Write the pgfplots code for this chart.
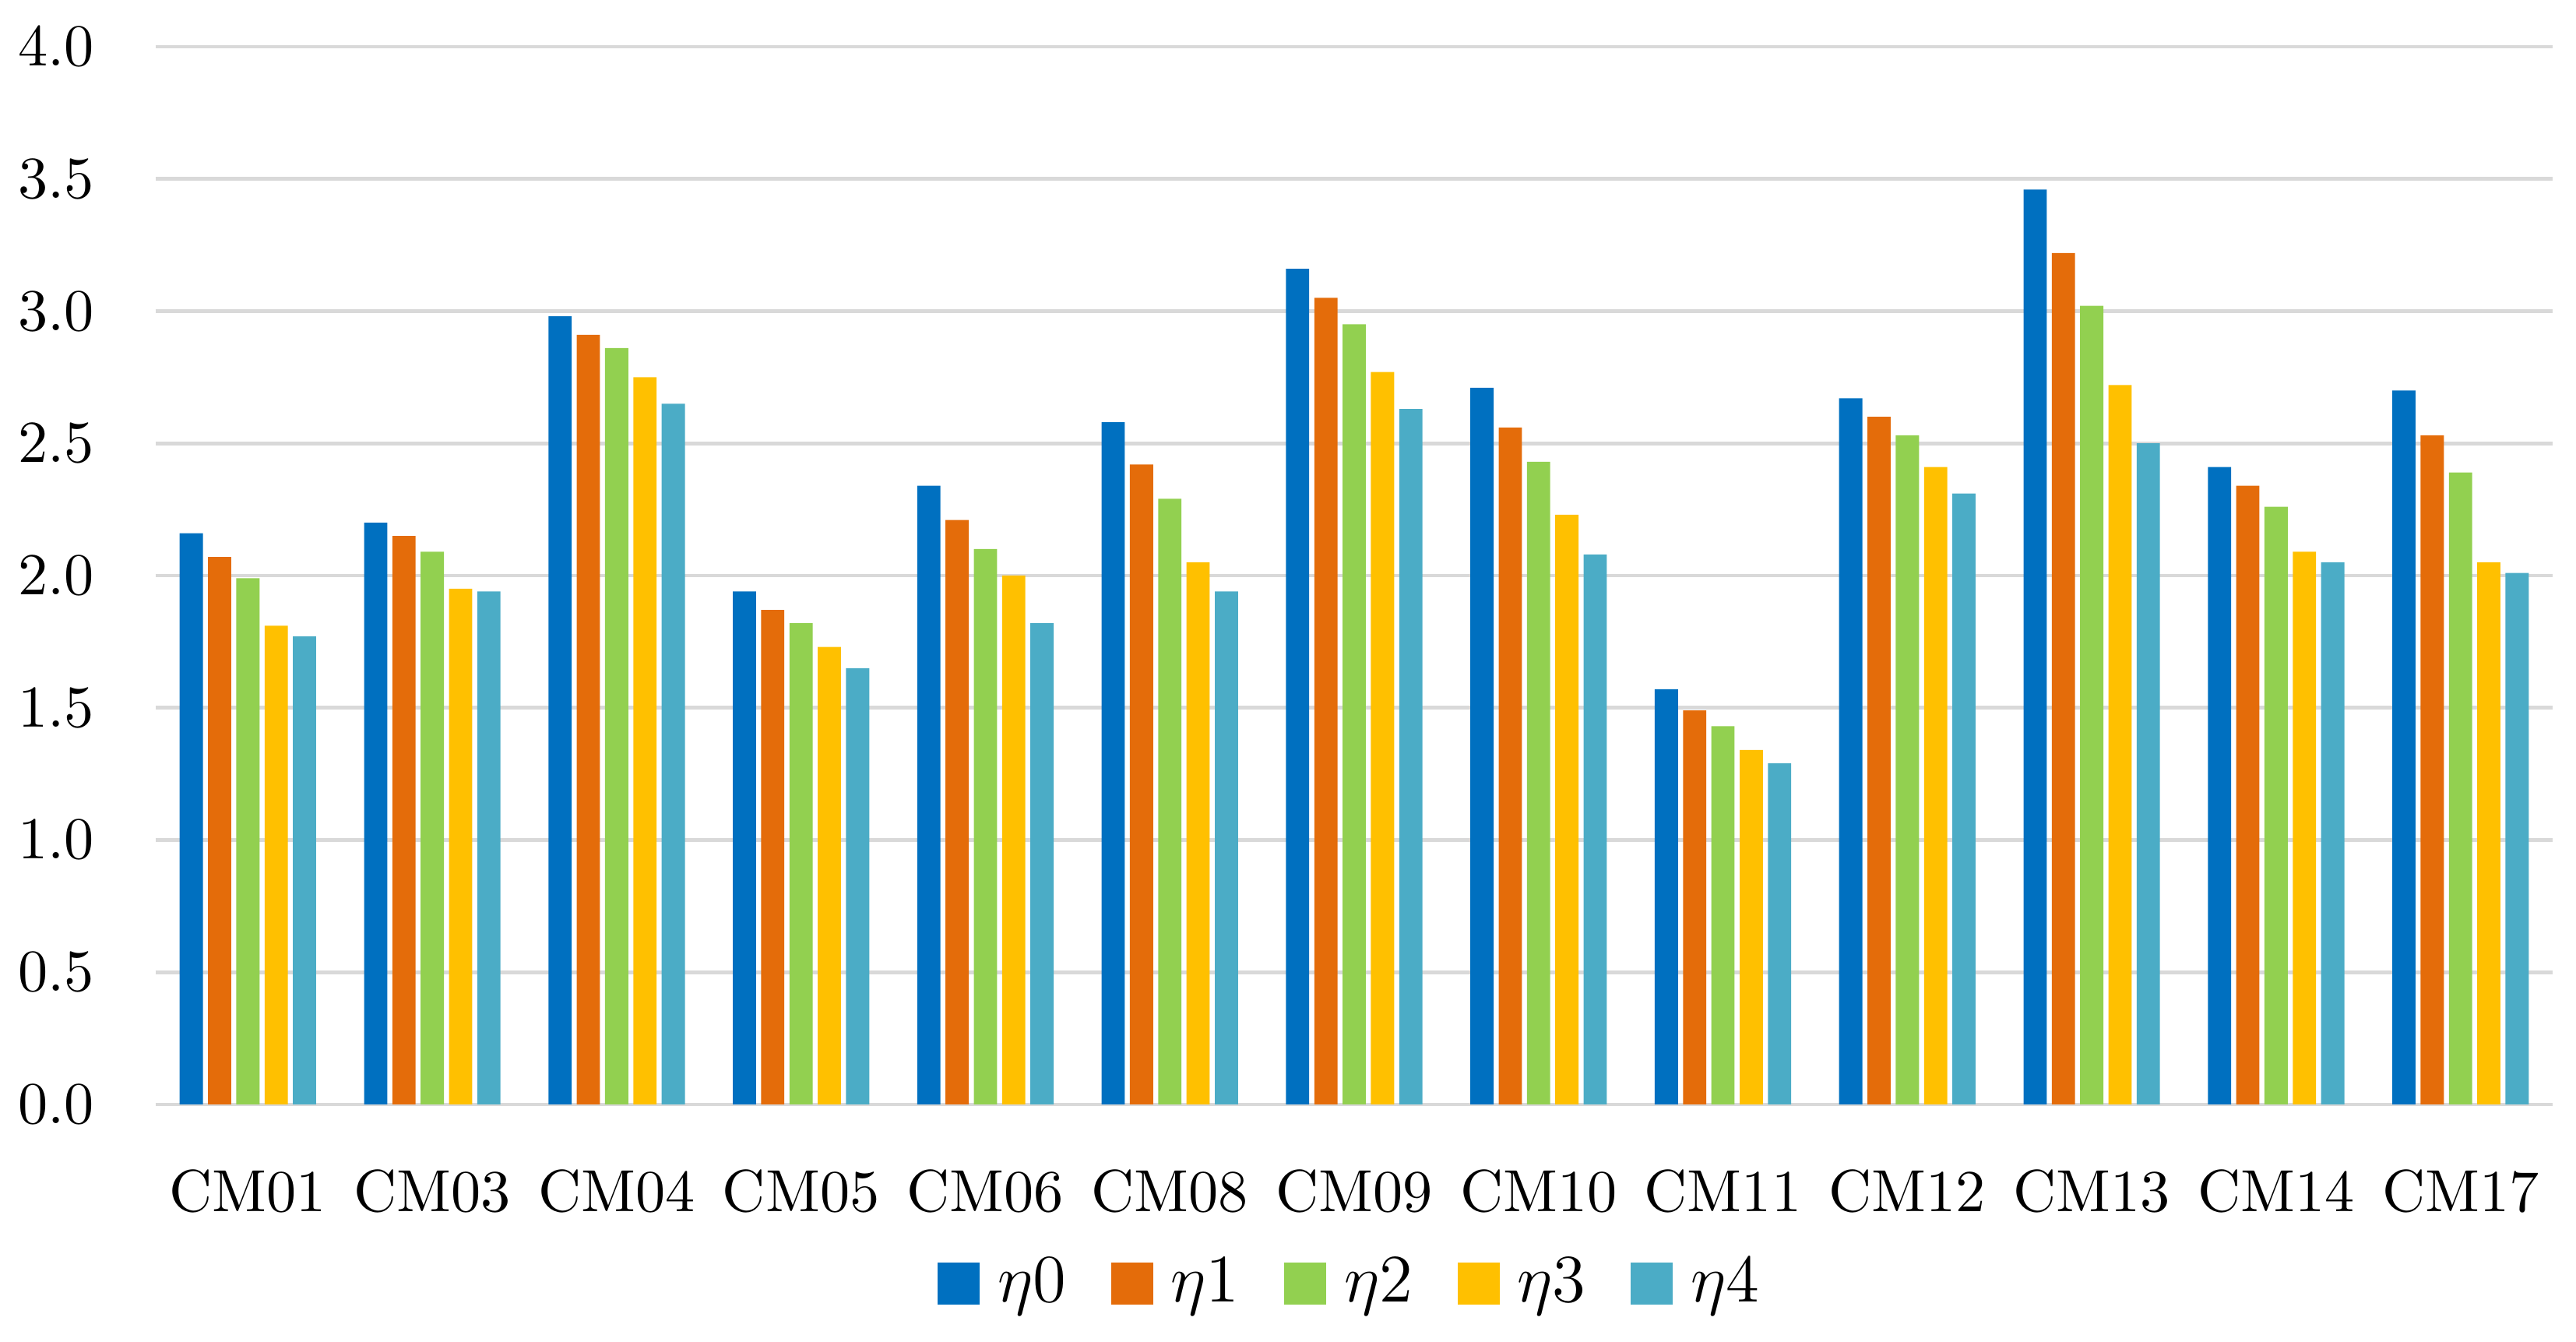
\documentclass[border=0pt]{standalone}
\usepackage{pgfplots}
\usepackage{pgfplotstable}
\pgfplotsset{compat=1.18}

\definecolor{cA}{HTML}{0070C0}
\definecolor{cB}{HTML}{E46C0A}
\definecolor{cC}{HTML}{92D050}
\definecolor{cD}{HTML}{FFC000}
\definecolor{cE}{HTML}{4BACC6}
\definecolor{gridgray}{HTML}{D9D9D9}

% columns: eta0 ... eta4 for each CM
\pgfplotstableread{
x  e0   e1   e2   e3   e4
0  2.16 2.07 1.99 1.81 1.77
1  2.20 2.15 2.09 1.95 1.94
2  2.98 2.91 2.86 2.75 2.65
3  1.94 1.87 1.82 1.73 1.65
4  2.34 2.21 2.10 2.00 1.82
5  2.58 2.42 2.29 2.05 1.94
6  3.16 3.05 2.95 2.77 2.63
7  2.71 2.56 2.43 2.23 2.08
8  1.57 1.49 1.43 1.34 1.29
9  2.67 2.60 2.53 2.41 2.31
10 3.46 3.22 3.02 2.72 2.50
11 2.41 2.34 2.26 2.09 2.05
12 2.70 2.53 2.39 2.05 2.01
}\datatable

\begin{document}
\begin{tikzpicture}
\begin{axis}[
    scale only axis,
    width=14.888cm,
    height=6.568cm,
    ymin=0, ymax=4,
    ytick={0,0.5,...,4},
    xmin=-0.5, xmax=12.5,
    xtick=data,
    xticklabels={CM01,CM03,CM04,CM05,CM06,CM08,CM09,CM10,CM11,CM12,CM13,CM14,CM17},
    axis line style={draw=none},
    major tick length=0pt,
    ymajorgrids,
    grid style={gridgray, line width=0.65pt},
    ticklabel style={font=\fontsize{10.5}{12}\selectfont},
    yticklabel style={xshift=-0.26cm, /pgf/number format/.cd, fixed, fixed zerofill, precision=1, assume math mode=true},
    xticklabel style={yshift=-0.28cm},
    ybar,
    bar width=0.126,
    legend columns=5,
    legend style={at={(0.5,-0.1694)}, anchor=center, draw=none,
        font=\fontsize{12}{14}\selectfont,
        /tikz/every odd column/.append style={column sep=0.04cm},
        /tikz/every even column/.append style={column sep=0.21cm}},
    legend image code/.code={\draw[#1, draw=none] (0cm,-0.13cm) rectangle (0.26cm,0.13cm);},
]
\addplot[fill=cA, draw=none, bar shift=-0.307] table[x=x, y=e0] {\datatable};
\addlegendentry{$\eta$0}
\addplot[fill=cB, draw=none, bar shift=-0.1535] table[x=x, y=e1] {\datatable};
\addlegendentry{$\eta$1}
\addplot[fill=cC, draw=none, bar shift=0] table[x=x, y=e2] {\datatable};
\addlegendentry{$\eta$2}
\addplot[fill=cD, draw=none, bar shift=0.1535] table[x=x, y=e3] {\datatable};
\addlegendentry{$\eta$3}
\addplot[fill=cE, draw=none, bar shift=0.307] table[x=x, y=e4] {\datatable};
\addlegendentry{$\eta$4}
\coordinate (bbsw) at (rel axis cs:-0.06496,-0.22457);
\coordinate (bbne) at (rel axis cs:1.00974,1.04415);
\end{axis}
\pgfresetboundingbox
\path (bbsw) rectangle (bbne);
\end{tikzpicture}
\end{document}
